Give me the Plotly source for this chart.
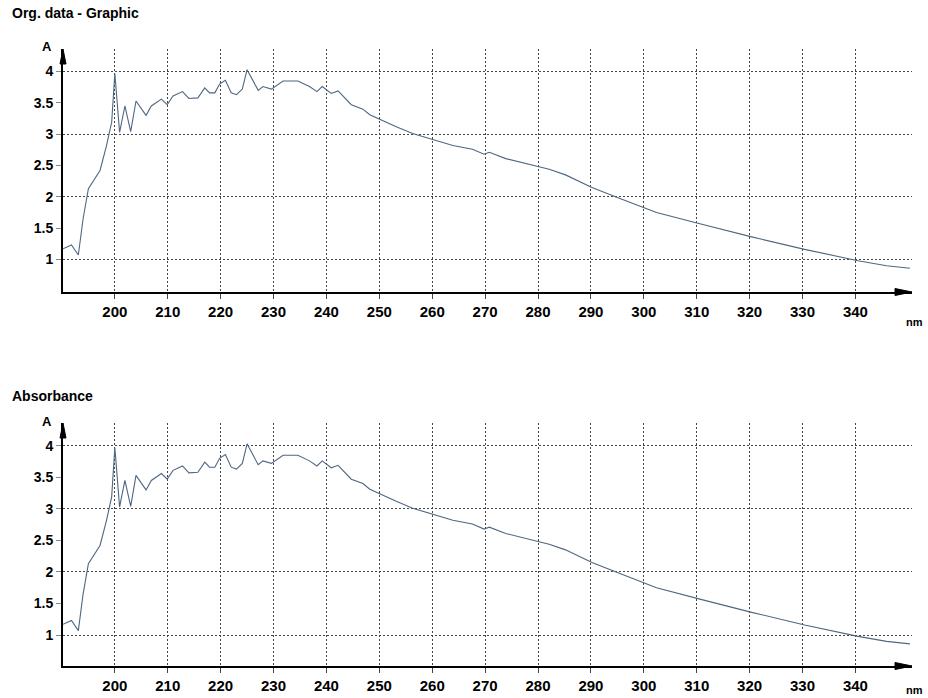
import plotly.graph_objects as go

# ---- data ----
wavelength_nm = [190.2, 191.8, 193.1, 194.0, 195.0, 197.2, 198.4, 199.4, 200.0, 200.9,
                 201.9, 203.0, 204.0, 205.9, 206.9, 208.8, 209.9, 211.0, 212.8, 214.0,
                 215.7, 217.0, 217.9, 218.9, 219.8, 220.9, 222.0, 223.0, 224.1, 225.0,
                 227.1, 228.0, 229.6, 231.8, 234.6, 236.8, 238.2, 239.2, 240.9, 242.2,
                 244.7, 246.9, 248.2, 250.0, 253.2, 256.3, 260.1, 263.9, 267.6, 269.8,
                 270.8, 273.9, 280.2, 282.1, 285.2, 290.2, 295.0, 300.5, 302.4, 310.6,
                 315.6, 320.4, 330.4, 335.8, 340.5, 345.9, 350.3]
absorbance = [1.17, 1.23, 1.07, 1.65, 2.13, 2.42, 2.81, 3.19, 3.97, 3.03,
              3.45, 3.04, 3.53, 3.30, 3.45, 3.56, 3.47, 3.61, 3.68, 3.57,
              3.58, 3.74, 3.66, 3.66, 3.80, 3.86, 3.66, 3.63, 3.72, 4.03,
              3.70, 3.76, 3.72, 3.85, 3.85, 3.76, 3.68, 3.76, 3.65, 3.69,
              3.47, 3.40, 3.31, 3.24, 3.12, 3.01, 2.92, 2.82, 2.76, 2.68,
              2.71, 2.61, 2.48, 2.44, 2.35, 2.15, 1.99, 1.81, 1.75, 1.57,
              1.46, 1.36, 1.16, 1.06, 0.98, 0.90, 0.86]
x_ticks = [200, 210, 220, 230, 240, 250, 260, 270, 280, 290, 300, 310, 320, 330, 340]
y_ticks = [1, 1.5, 2, 2.5, 3, 3.5, 4]
y_grid = [1, 2, 3, 4]
panel_titles = ["Org. data - Graphic", "Absorbance"]
x_unit = "nm"
y_unit = "A"

W, H = 928, 698
FONT = "Liberation Sans, Arial, sans-serif"
LINE_COLOR = "#4f6780"
GRID_COLOR = "#444444"

fig = go.Figure()

# panel geometry in pixels: (axis bottom y, arrow top y, y range, unit label offset)
panels = [(292, 49, [0.48, 4.36], 30), (666, 423, [0.51, 4.36], 24)]
x_left, x_right = 63, 912
x_range = [190.2, 350.7]

for i, (ybot, ytop, yr, nm_off) in enumerate(panels, start=1):
    xa = "x" if i == 1 else f"x{i}"
    ya = "y" if i == 1 else f"y{i}"
    fig.add_trace(go.Scatter(x=wavelength_nm, y=absorbance, mode="lines",
                             line=dict(color=LINE_COLOR, width=1.1),
                             xaxis=xa, yaxis=ya, showlegend=False, hoverinfo="x+y"))
    xkey = "xaxis" if i == 1 else f"xaxis{i}"
    ykey = "yaxis" if i == 1 else f"yaxis{i}"
    fig.update_layout(**{
        xkey: dict(domain=[x_left / W, x_right / W], range=x_range, anchor=ya,
                   automargin=False,
                   tickvals=x_ticks, ticks="outside", ticklen=5, tickcolor=GRID_COLOR,
                   showgrid=True, gridcolor=GRID_COLOR, griddash="2px,2px", gridwidth=1,
                   showline=True, linecolor="black", linewidth=2, zeroline=False,
                   tickfont=dict(family=FONT, size=15, color="black", weight="bold"),
                   fixedrange=True),
        ykey: dict(domain=[(H - ybot) / H, (H - ytop) / H], range=yr, anchor=xa,
                   automargin=False,
                   tickvals=y_ticks, ticktext=[f"{v:g}" for v in y_ticks],
                   ticks="outside", ticklen=5, tickcolor="#888888",
                   showgrid=False, zeroline=False,
                   minor=dict(tickvals=y_grid, showgrid=True, gridcolor=GRID_COLOR,
                              griddash="2px,2px", gridwidth=1, ticks=""),
                   showline=True, linecolor="black", linewidth=2,
                   tickfont=dict(family=FONT, size=14, color="black", weight="bold"),
                   fixedrange=True),
    })
    # arrow heads on axes
    fig.add_shape(type="path", xref=f"{xa} domain", yref=f"{ya} domain",
                  xsizemode="pixel", ysizemode="pixel", xanchor=1, yanchor=0,
                  path="M 0,0 L -17,3.5 L -17,-3.5 Z", fillcolor="black",
                  line=dict(color="black", width=1))
    fig.add_shape(type="path", xref=f"{xa} domain", yref=f"{ya} domain",
                  xsizemode="pixel", ysizemode="pixel", xanchor=0, yanchor=1,
                  path="M 0,0 L -3,-15 L 3,-15 Z", fillcolor="black",
                  line=dict(color="black", width=1))
    # axis unit labels
    fig.add_annotation(text=y_unit, xref="paper", yref="paper",
                       x=47 / W, y=(H - (ytop - 2)) / H, xanchor="center", yanchor="middle",
                       showarrow=False, font=dict(family=FONT, size=13, color="black", weight="bold"))
    fig.add_annotation(text=x_unit, xref="paper", yref="paper",
                       x=914 / W, y=(H - (ybot + nm_off)) / H, xanchor="center", yanchor="middle",
                       showarrow=False, font=dict(family=FONT, size=11, color="black", weight="bold"))
    # panel title
    fig.add_annotation(text=panel_titles[i - 1], xref="paper", yref="paper",
                       x=10 / W, y=(H - (13 if i == 1 else 396)) / H,
                       xanchor="left", yanchor="middle", showarrow=False,
                       font=dict(family=FONT, size=14, color="black", weight="bold"))

fig.update_layout(width=W, height=H, margin=dict(l=0, r=0, t=0, b=0),
                  paper_bgcolor="white", plot_bgcolor="white", showlegend=False)

fig.write_html("out.html", config={"displayModeBar": False},
               post_script="document.body.style.margin='0px';document.body.style.overflow='hidden';")
